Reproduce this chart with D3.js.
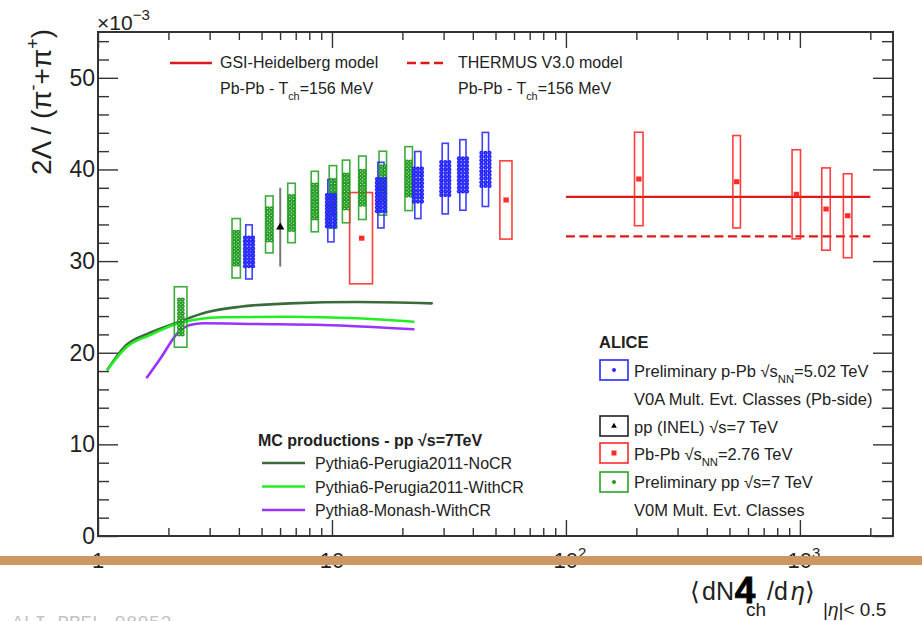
<!DOCTYPE html>
<html>
<head>
<meta charset="utf-8">
<script src="https://cdn.jsdelivr.net/npm/d3@7"></script>
<style>
  html, body { margin: 0; padding: 0; background: #fff; }
  svg { display: block; font-family: "Liberation Sans", Arial, Helvetica, sans-serif; }
</style>
</head>
<body>
<svg id="chart" width="922" height="621"></svg>
<script>
// ---- Data: 2Λ/(π⁻+π⁺) (×10⁻³) versus <dNch/dη> ----

// Preliminary pp √s = 7 TeV, V0M multiplicity classes
const ppMult     = [2.26, 3.90, 5.40, 6.72, 8.45, 10.1, 11.5, 13.5, 16.5, 21.3];
const ppMultErr  = [0.14, 0.16, 0.20, 0.25, 0.30, 0.37, 0.42, 0.50, 0.61, 0.79];
const ppRatio    = [23.9, 31.4, 34.0, 35.25, 36.5, 37.0, 37.6, 38.0, 38.5, 39.0];
const ppStat     = [1.9, 1.8, 1.75, 1.85, 1.85, 1.85, 1.85, 1.85, 1.85, 1.85];
const ppSys      = [3.3, 3.24, 3.11, 3.24, 3.3, 3.42, 3.42, 3.46, 3.49, 3.49];

// Preliminary p-Pb √sNN = 5.02 TeV, V0A multiplicity classes (Pb-side)
const pPbMult    = [4.42, 9.9, 16.2, 23.3, 30.5, 36.3, 45.3];
const pPbMultErr = [0.14, 0.30, 0.49, 0.70, 0.92, 1.10, 1.40];
const pPbRatio   = [31.0, 35.5, 37.2, 38.3, 39.0, 39.4, 40.0];
const pPbStat    = [1.55, 1.7, 1.75, 1.8, 1.8, 1.8, 1.8];
const pPbSys     = [2.95, 3.4, 3.58, 3.66, 3.85, 3.85, 4.04];

// pp (INEL) √s = 7 TeV
const inelMult   = [6.01];
const inelRatio  = [33.7];
const inelErr    = [4.3];

// Pb-Pb √sNN = 2.76 TeV
const pbMult     = [13.4, 55.5, 205, 537, 966, 1294, 1601];
const pbMultErr  = [1.5, 3.3, 8.6, 20, 40, 54, 67];
const pbRatio    = [32.5, 36.67, 38.96, 38.66, 37.29, 35.68, 34.95];
const pbSys      = [4.98, 4.27, 5.1, 5.04, 4.86, 4.49, 4.58];

// Thermal model predictions, Pb-Pb, Tch = 156 MeV
const modelRange    = [100, 2000];
const gsiValue      = 37.0;
const thermusValue  = 32.7;

// MC productions, pp √s = 7 TeV
const noCRMult    = [1.1, 1.3, 1.67, 2.17, 2.91, 4.04, 6.6, 12.8, 26.7];
const noCRRatio   = [18.19, 20.66, 22.18, 23.28, 24.41, 25.02, 25.39, 25.53, 25.39];
const withCRMult  = [1.1, 1.33, 1.67, 2.10, 2.55, 3.43, 6.6, 12.8, 22.3];
const withCRRatio = [18.19, 20.66, 21.93, 23.03, 23.57, 23.87, 23.93, 23.76, 23.38];
const monashMult  = [1.62, 1.87, 2.17, 2.47, 2.82, 4.77, 9.18, 22.3];
const monashRatio = [17.32, 19.57, 22.04, 23.03, 23.21, 23.13, 23.03, 22.56];

// Axis ticks
const xMajorTicks = [1, 10, 100, 1000];
const xTickLabels = [["1", ""], ["10", ""], ["10", "2"], ["10", "3"]];
const yMajorTicks = [0, 10, 20, 30, 40, 50];

// ---- Layout ----
const svg = d3.select("#chart");
const frame = { left: 98, top: 32, right: 893, bottom: 536 };
const x = d3.scaleLog().domain([1, 2500]).range([frame.left, frame.right]);
const y = d3.scaleLinear().domain([0, 55]).range([frame.bottom, frame.top]);

const C = {
  green: "#27a327", greenFill: "#1e991e",
  blue: "#2a2aff", red: "#ff2a2a", model: "#dd1a1a",
  noCR: "#3b6b3b", withCR: "#22ee22", monash: "#9933ff",
  axis: "#333", text: "#222"
};

svg.append("rect").attr("width", 922).attr("height", 621).attr("fill", "#fff");

// ---- Axes (ticks point inward on all four sides) ----
const xMinor = [];
[1, 10, 100, 1000].forEach(d => { for (let k = 2; k <= 9; k++) if (d * k <= 2500) xMinor.push(d * k); });
const yMinor = d3.range(0, 56, 2).filter(v => v % 10 !== 0);

function styleAxis(g) {
  g.select(".domain").remove();
  g.selectAll(".tick line").attr("stroke", C.axis).attr("stroke-width", 1.4);
  g.selectAll(".tick text").remove();
}
const axes = svg.append("g");
axes.append("g").attr("transform", `translate(0,${frame.bottom})`)
  .call(d3.axisBottom(x).tickValues(xMinor).tickSize(-8).tickFormat("")).call(styleAxis);
axes.append("g").attr("transform", `translate(0,${frame.bottom})`)
  .call(d3.axisBottom(x).tickValues(xMajorTicks).tickSize(-16).tickFormat("")).call(styleAxis);
axes.append("g").attr("transform", `translate(0,${frame.top})`)
  .call(d3.axisTop(x).tickValues(xMinor).tickSize(-8).tickFormat("")).call(styleAxis);
axes.append("g").attr("transform", `translate(0,${frame.top})`)
  .call(d3.axisTop(x).tickValues(xMajorTicks).tickSize(-16).tickFormat("")).call(styleAxis);
axes.append("g").attr("transform", `translate(${frame.left},0)`)
  .call(d3.axisLeft(y).tickValues(yMinor).tickSize(-11).tickFormat("")).call(styleAxis);
axes.append("g").attr("transform", `translate(${frame.left},0)`)
  .call(d3.axisLeft(y).tickValues(yMajorTicks).tickSize(-20).tickFormat("")).call(styleAxis);
axes.append("g").attr("transform", `translate(${frame.right},0)`)
  .call(d3.axisRight(y).tickValues(yMinor).tickSize(-11).tickFormat("")).call(styleAxis);
axes.append("g").attr("transform", `translate(${frame.right},0)`)
  .call(d3.axisRight(y).tickValues(yMajorTicks).tickSize(-20).tickFormat("")).call(styleAxis);

svg.append("rect")
  .attr("x", frame.left).attr("y", frame.top)
  .attr("width", frame.right - frame.left).attr("height", frame.bottom - frame.top)
  .attr("fill", "none").attr("stroke", C.axis).attr("stroke-width", 2);

// Y tick labels
svg.append("g").selectAll("text").data(yMajorTicks).join("text")
  .attr("x", frame.left - 3).attr("y", d => y(d) + 8)
  .attr("text-anchor", "end").attr("font-size", 23).attr("fill", C.text)
  .text(d => d);

// ×10⁻³ exponent
const expo = svg.append("text").attr("x", frame.left - 1).attr("y", 30)
  .attr("font-size", 21).attr("fill", C.text);
expo.append("tspan").text("×10");
expo.append("tspan").attr("font-size", 15).attr("dy", -10).text("−3");

// X tick labels
const xl = svg.append("g").selectAll("text").data(xMajorTicks).join("text")
  .attr("x", d => x(d) + (d >= 100 ? 4 : 0)).attr("y", 568)
  .attr("text-anchor", "middle").attr("font-size", 22).attr("fill", C.text);
xl.append("tspan").text((d, i) => xTickLabels[i][0]);
xl.append("tspan").attr("font-size", 15).attr("dy", -10).text((d, i) => xTickLabels[i][1]);

// Y axis title
const yt = svg.append("text")
  .attr("transform", "translate(51,102) rotate(-90)")
  .attr("text-anchor", "middle").attr("font-size", 28).attr("fill", C.text);
yt.append("tspan").text("2Λ / (π");
yt.append("tspan").attr("font-size", 18).attr("dy", -12).text("-");
yt.append("tspan").attr("dy", 12).text("+π");
yt.append("tspan").attr("font-size", 18).attr("dy", -12).text("+");
yt.append("tspan").attr("dy", 12).text(")");

// ---- Thermal model lines ----
const models = svg.append("g");
models.append("line")
  .attr("x1", x(modelRange[0])).attr("x2", x(modelRange[1]))
  .attr("y1", y(gsiValue)).attr("y2", y(gsiValue))
  .attr("stroke", C.model).attr("stroke-width", 2.3);
models.append("line")
  .attr("x1", x(modelRange[0])).attr("x2", x(modelRange[1]))
  .attr("y1", y(thermusValue)).attr("y2", y(thermusValue))
  .attr("stroke", C.model).attr("stroke-width", 2.3).attr("stroke-dasharray", "9,4.5");

// ---- MC curves ----
const line = d3.line().x(d => x(d[0])).y(d => y(d[1])).curve(d3.curveMonotoneX);
const mc = svg.append("g").attr("fill", "none").attr("stroke-width", 2.6).attr("stroke-linecap", "round");
mc.append("path").attr("d", line(d3.zip(noCRMult, noCRRatio))).attr("stroke", C.noCR);
mc.append("path").attr("d", line(d3.zip(withCRMult, withCRRatio))).attr("stroke", C.withCR);
mc.append("path").attr("d", line(d3.zip(monashMult, monashRatio))).attr("stroke", C.monash);

// ---- Systematic boxes ----
function sysBoxes(mult, multErr, ratio, sys, color) {
  svg.append("g").selectAll("rect").data(mult).join("rect")
    .attr("x", (d, i) => x(d - multErr[i]))
    .attr("width", (d, i) => x(d + multErr[i]) - x(d - multErr[i]))
    .attr("y", (d, i) => y(ratio[i] + sys[i]))
    .attr("height", (d, i) => y(ratio[i] - sys[i]) - y(ratio[i] + sys[i]))
    .attr("fill", "none").attr("stroke", color).attr("stroke-width", 1.6).attr("opacity", 0.9);
}
sysBoxes(ppMult, ppMultErr, ppRatio, ppSys, C.green);
sysBoxes(pPbMult, pPbMultErr, pPbRatio, pPbSys, C.blue);
sysBoxes(pbMult, pbMultErr, pbRatio, pbSys, C.red);

// Statistical-uncertainty marker columns
function statColumn(g, cx, lo, hi, offsets, r, fill, dot, step) {
  const y0 = y(hi), y1 = y(lo);
  const n = Math.max(2, Math.round((y1 - y0) / step) + 1);
  const rows = d3.range(n).map(i => y0 + i * (y1 - y0) / (n - 1));
  rows.forEach(yy => {
    offsets.forEach(o => {
      g.append("circle").attr("cx", cx + o).attr("cy", yy).attr("r", r).attr("fill", fill);
    });
  });
  if (dot) rows.forEach(yy => offsets.forEach(o => {
    g.append("circle").attr("cx", cx + o).attr("cy", yy).attr("r", 0.6).attr("fill", dot);
  }));
}
const ppG = svg.append("g");
ppMult.forEach((m, i) => statColumn(ppG, x(m), ppRatio[i] - ppStat[i], ppRatio[i] + ppStat[i],
  [-1.8, 1.8], 2.1, C.greenFill, "#e8f8e8", 3.4));
const pPbG = svg.append("g");
pPbMult.forEach((m, i) => statColumn(pPbG, x(m), pPbRatio[i] - pPbStat[i], pPbRatio[i] + pPbStat[i],
  [-4, 0, 4], 2.15, "#2222ff", "#7070ff", 3.5));

// pp INEL: error bar with triangle marker
const inel = svg.append("g");
inelMult.forEach((m, i) => {
  inel.append("line").attr("x1", x(m)).attr("x2", x(m))
    .attr("y1", y(inelRatio[i] + inelErr[i])).attr("y2", y(inelRatio[i] - inelErr[i]))
    .attr("stroke", "#777").attr("stroke-width", 2);
  inel.append("path").attr("transform", `translate(${x(m)},${y(inelRatio[i])})`)
    .attr("d", d3.symbol(d3.symbolTriangle, 30)()).attr("fill", "#000");
});

// Pb-Pb markers
svg.append("g").selectAll("rect").data(pbMult).join("rect")
  .attr("x", d => x(d) - 2.7).attr("width", 5.4)
  .attr("y", (d, i) => y(pbRatio[i]) - 2.5).attr("height", 5)
  .attr("fill", C.red);

// ---- Rich text helper (subscripts / superscripts) ----
function rich(parent, px, py, size, parts, weight) {
  const t = parent.append("text").attr("x", px).attr("y", py)
    .attr("font-size", size).attr("fill", C.text);
  if (weight) t.attr("font-weight", weight);
  let shift = 0;
  parts.forEach(p => {
    const s = typeof p === "string" ? { t: p } : p;
    const ts = t.append("tspan").text(s.t);
    const target = s.sub ? size * 0.35 : 0;
    if (target !== shift) { ts.attr("dy", target - shift); shift = target; }
    if (s.sub) ts.attr("font-size", size * 0.68);
  });
  return t;
}

// ---- Top legend: thermal models ----
const lg1 = svg.append("g");
lg1.append("line").attr("x1", 170).attr("x2", 212).attr("y1", 63).attr("y2", 63)
  .attr("stroke", C.model).attr("stroke-width", 2.3);
rich(lg1, 220, 68, 16, ["GSI-Heidelberg model"]);
rich(lg1, 220, 94, 16, ["Pb-Pb - T", { t: "ch", sub: true }, "=156 MeV"]);
lg1.append("line").attr("x1", 407).attr("x2", 447).attr("y1", 63).attr("y2", 63)
  .attr("stroke", C.model).attr("stroke-width", 2.3).attr("stroke-dasharray", "9,4.5");
rich(lg1, 458, 68, 16, ["THERMUS V3.0 model"]);
rich(lg1, 458, 94, 16, ["Pb-Pb - T", { t: "ch", sub: true }, "=156 MeV"]);

// ---- ALICE data legend ----
const lg2 = svg.append("g");
rich(lg2, 599, 348, 16.5, ["ALICE"], "bold");
function keyBox(cy, color) {
  lg2.append("rect").attr("x", 600).attr("y", cy - 10).attr("width", 28).attr("height", 20)
    .attr("fill", "none").attr("stroke", color).attr("stroke-width", 1.6);
}
keyBox(370, C.blue);
lg2.append("circle").attr("cx", 614).attr("cy", 370).attr("r", 2).attr("fill", C.blue);
rich(lg2, 634, 377, 16.5, ["Preliminary p-Pb √s", { t: "NN", sub: true }, "=5.02 TeV"]);
rich(lg2, 634, 405, 16.5, ["V0A Mult. Evt. Classes (Pb-side)"]);
keyBox(426, "#222");
lg2.append("path").attr("transform", "translate(614,426)")
  .attr("d", d3.symbol(d3.symbolTriangle, 14)()).attr("fill", "#000");
rich(lg2, 634, 433, 16.5, ["pp (INEL) √s=7 TeV"]);
keyBox(453, C.red);
lg2.append("rect").attr("x", 611.5).attr("y", 450.5).attr("width", 5).attr("height", 5).attr("fill", C.red);
rich(lg2, 634, 460, 16.5, ["Pb-Pb √s", { t: "NN", sub: true }, "=2.76 TeV"]);
keyBox(482, C.green);
lg2.append("circle").attr("cx", 614).attr("cy", 482).attr("r", 2).attr("fill", C.greenFill);
rich(lg2, 634, 488, 16.5, ["Preliminary pp √s=7 TeV"]);
rich(lg2, 634, 516, 16.5, ["V0M Mult. Evt. Classes"]);

// ---- MC legend ----
const lg3 = svg.append("g");
rich(lg3, 258, 446, 16, ["MC productions - pp  √s=7TeV"], "bold");
[[C.noCR, "Pythia6-Perugia2011-NoCR"], [C.withCR, "Pythia6-Perugia2011-WithCR"],
 [C.monash, "Pythia8-Monash-WithCR"]].forEach((e, i) => {
  const cy = 463 + i * 23.5;
  lg3.append("line").attr("x1", 262).attr("x2", 305).attr("y1", cy).attr("y2", cy)
    .attr("stroke", e[0]).attr("stroke-width", 2.6);
  rich(lg3, 315, cy + 6, 16, [e[1]]);
});

// ---- X axis title ----
const xt = svg.append("g").attr("fill", C.text);
xt.append("text").attr("x", 690).attr("y", 600).attr("font-size", 25).text("⟨");
xt.append("text").attr("x", 702).attr("y", 600).attr("font-size", 25).text("dN");
xt.append("text").attr("x", 746).attr("y", 616).attr("font-size", 19).text("ch");
xt.append("text").attr("x", 767).attr("y", 600).attr("font-size", 25).text("/d");
xt.append("text").attr("x", 791).attr("y", 600).attr("font-size", 25).attr("font-style", "italic").text("η");
xt.append("text").attr("x", 805).attr("y", 600).attr("font-size", 25).text("⟩");
const sub = xt.append("text").attr("x", 823).attr("y", 616).attr("font-size", 19);
sub.append("tspan").text("|");
sub.append("tspan").attr("font-style", "italic").text("η");
sub.append("tspan").text("|< 0.5");

// Slide overlay: divider bar and page number
svg.append("rect").attr("x", 0).attr("y", 556).attr("width", 922).attr("height", 9).attr("fill", "#cd9763");
svg.append("text").attr("x", 745).attr("y", 603).attr("text-anchor", "middle")
  .attr("font-size", 37).attr("font-weight", "bold").attr("fill", "#000")
  .attr("stroke", "#000").attr("stroke-width", 0.8).text("4");

// Figure identifier
svg.append("text").attr("x", 12).attr("y", 628)
  .attr("font-family", "'Liberation Mono', 'DejaVu Sans Mono', monospace")
  .attr("font-size", 19).attr("fill", "#c4c4c4").text("ALI-PREL-98952");
</script>
</body>
</html>
